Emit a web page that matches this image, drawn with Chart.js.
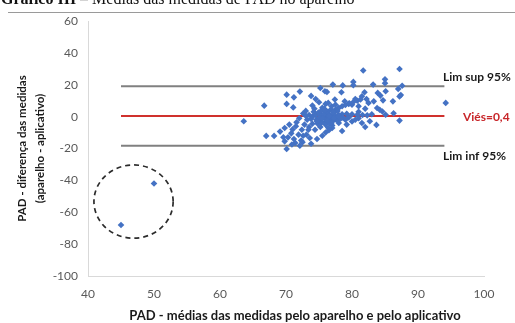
<!DOCTYPE html>
<html>
<head>
<meta charset="utf-8">
<script src="https://cdn.jsdelivr.net/npm/chart.js@4.4.0/dist/chart.umd.min.js"></script>
<style>
  html, body { margin: 0; padding: 0; background: #fff; overflow: hidden; }
  #wrap { position: relative; width: 515px; height: 323px; }
  #title { position: absolute; left: 1px; top: -9px; font-family: "Liberation Serif", serif; font-size: 16px; line-height: 16px; color: #111; white-space: nowrap; }
  #rule { position: absolute; left: 8px; right: 0; top: 12px; border-top: 1px solid #9a9a9a; }
  canvas { position: absolute; left: 0; top: 0; }
</style>
</head>
<body>
<div id="wrap">
  <canvas id="myChart" width="515" height="323"></canvas>
  <div id="title"><b>Gráfico III –</b> Médias das medidas de PAD no aparelho</div>
  <div id="rule"></div>
</div>
<script>
// means of the two measurements (x) and their difference (y)
let padMean = [
  45, 50,
  63.6, 66.7, 67, 68.2, 69.1, 69.8, 69.6, 69.8, 70.1, 70.1, 70.1, 71.2, 71.1, 72.1, 72.1, 71.9, 71.6, 72.4,
  73, 70.5, 71, 70.8, 71.5, 72, 72.8, 73.2, 73.5, 70.3, 71.2, 72.6, 73.1, 73.4, 73.6, 74.4, 74.7, 72.5, 73.8,
  75.2, 75.9, 76.2, 77.1, 78.4, 78.6, 80.2, 80.2, 81.7, 81.9, 81.5, 80.5, 78.9, 77.4, 76.4, 74.5, 75, 74, 75.5, 73.8,
  83.2, 85, 85, 87.2, 87.6, 87, 87.4, 87.2, 86.2, 86.3, 87.2, 94.2, 85.1, 83.9, 84.3, 84.7, 83.3, 82.5,
  83.8, 84.2, 84.6, 85.1, 83.7, 82.7, 82, 81, 80, 79.5, 82.2, 81,
  77.5, 78, 78.5, 79, 79.6, 80.2, 80.8, 81.3,
  78.5, 79.2, 80, 80.8, 81.6, 82.3, 83, 79.5, 81,
  77, 78, 79, 79.2, 80, 80.5, 81.5, 82, 76, 75.5, 76.5, 78.5, 74,
  74, 74.5, 75, 75.5, 76, 76.5, 77, 77.5, 78, 75, 76, 77, 78, 75.3, 76.3, 77.3, 76, 77, 74.8, 76.8,
  75.8, 74.2, 73.8, 74.6, 78.6, 76.2, 75.6, 77.6, 76.6, 77.2, 75.2, 76.4, 77.8, 74.3, 73.5, 73, 72.6, 76.9, 77.5, 76,
  75.1, 75.7, 76.1, 76.7, 77.3, 74.9, 75.4, 76.6, 77.9, 78.3,
  76.3, 76.9, 75.9, 77.1, 75.5, 76.5, 74.7, 71.4, 70.9, 72.3
]
let padDiff = [
  -68, -42,
  -2.9, 6.9, -12.1, -12.1, -9.4, -7.1, -12.9, -15.5, -20.3, 13.8, 8, 12.1, 5.8, 15.7, -18.2, -11.3, -3.6, -8.2,
  3.6, -5, -8, -10.5, -6, -1, -5, -2, -6.5, -13, -14, -12, -11.3, -8.2, -13.4, -8.2, -14, -16, -17,
  18, 15.9, 15.5, 20.1, 15.3, 19.6, 21.8, 19.7, 28.9, 15.3, 12.8, 11.1, 9.6, 10.7, 8.6, 11, 9, 7, 5.5, 13,
  20.1, 23.4, 21, 29.9, 19.4, 17.4, 13.6, 12.7, 9.6, 2.1, -2.5, 8.6, 15.9, 14.9, 13.2, 10.2, 9.6, 8.6,
  5.4, 4.3, 3.2, 1.2, -5.2, -2.9, 5, 6.5, 7.5, 8, 11, 3,
  4.5, 5.5, 6.5, 7.3, 8.4, 9.2, 10, 10.8,
  1.5, 1.8, 1.5, 1.2, 1, 0.8, 1.5, -0.5, -1,
  -7.1, -4, -1.9, -5, -3, -2, -4, -6.5, -10, -12, -8.5, -9, -4.5,
  0, 1, 2, -1, 0, 1, -1, 0, 1, -3, -3, -3, -2, 3.5, 3, 2.5, -5, -5.5, -4.5, 4.5,
  5, 3, -1.5, -2, -0.5, 2, 0.5, -2, -1.5, 1.5, -6.5, -7, 3.5, 5, 1, 0.5, 2, 6.5, 7.5, 8,
  -0.5, 1.5, -2, 0.5, -0.8, 2.5, -3.8, -4, 0.2, -1.2,
  -2.5, -4, 4, 3, -1, 0.2, -3, -16.5, -17.5, -15
]

// limits of agreement: [lower, bias, upper] over the span of the means
let limitSpan = [45, 94]
let limitValues = [-18.3, 0.4, 19.1]
let limitLabels = ['Lim inf 95%', 'Viés=0,4', 'Lim sup 95%']

let xTicks = [40, 50, 60, 70, 80, 90, 100]
let yTicks = [-100, -80, -60, -40, -20, 0, 20, 40, 60]
let xTitle = 'PAD - médias das medidas pelo aparelho e pelo aplicativo'

let points = padMean.map(function(x, i) { return {x: x, y: padDiff[i]} })

function limitLine(value) {
  return [{x: limitSpan[0], y: value}, {x: limitSpan[1], y: value}]
}

// text next to each limit line, the x title and the dashed ring around the two outliers
let labelPlugin = {
  id: 'limitText',
  afterDatasetsDraw: function(chart) {
    let c = chart.ctx
    let xs = chart.scales.x
    let ys = chart.scales.y

    c.save()
    c.setLineDash([5, 4])
    c.strokeStyle = '#2b2b2b'
    c.lineWidth = 1.7
    let cx = xs.getPixelForValue(46.9)
    let cy = ys.getPixelForValue(-53.3)
    let rx = xs.getPixelForValue(46.9 + 6) - cx
    let ry = ys.getPixelForValue(-53.3 - 23) - cy
    c.beginPath()
    c.ellipse(cx, cy, rx, ry, 0, 0, Math.PI * 2)
    c.stroke()
    c.restore()

    c.save()
    c.font = 'bold 12px Lato'
    c.textBaseline = 'middle'
    c.textAlign = 'left'
    c.fillStyle = '#1a1a1a'
    c.fillText(limitLabels[2], xs.getPixelForValue(93.8), ys.getPixelForValue(24.5))
    c.fillText(limitLabels[0], xs.getPixelForValue(93.8), ys.getPixelForValue(-25))
    c.fillStyle = '#c8262a'
    c.fillText(limitLabels[1], xs.getPixelForValue(96.8), ys.getPixelForValue(0))

    c.font = 'bold 13px Lato'
    c.textAlign = 'center'
    c.fillStyle = '#1a1a1a'
    c.fillText(xTitle, (xs.left + xs.right) / 2 + 9, 316)
    c.restore()
  }
}

let ctx = document.getElementById('myChart').getContext('2d')
let chart = new Chart(ctx, {
    type: 'scatter',
    data: {
        datasets: [{
            label: 'PAD',
            data: points,
            pointStyle: 'rectRot',
            radius: 3.3,
            backgroundColor: '#4472c4',
            borderColor: '#4472c4',
            borderWidth: 0
        }, {
            type: 'line',
            data: limitLine(limitValues[2]),
            borderColor: '#808080',
            borderWidth: 2,
            pointRadius: 0
        }, {
            type: 'line',
            data: limitLine(limitValues[1]),
            borderColor: '#d0312d',
            borderWidth: 2,
            pointRadius: 0
        }, {
            type: 'line',
            data: limitLine(limitValues[0]),
            borderColor: '#808080',
            borderWidth: 2,
            pointRadius: 0
        }]
    },
    options: {
        responsive: false,
        animation: false,
        layout: { padding: { top: 21, right: 31, left: 0, bottom: 0 } },
        plugins: {
            legend: { display: false },
            tooltip: { enabled: false }
        },
        scales: {
            x: {
                type: 'linear',
                min: 40,
                max: 100,
                afterBuildTicks: function(s) { s.ticks = xTicks.map(function(v) { return {value: v} }) },
                afterFit: function(s) { s.height = 47 },
                grid: { display: false, drawTicks: false },
                border: { display: true, color: '#d9d9d9', width: 1 },
                ticks: { padding: 11, color: '#595959', font: { family: 'Lato', size: 12 } },
                title: { display: false }
            },
            y: {
                type: 'linear',
                min: -100,
                max: 60,
                afterBuildTicks: function(s) { s.ticks = yTicks.map(function(v) { return {value: v} }) },
                afterFit: function(s) { s.width = 88 },
                grid: { display: false, drawTicks: false },
                border: { display: true, color: '#d9d9d9', width: 1 },
                ticks: { padding: 10, color: '#595959', font: { family: 'Lato', size: 12 } },
                title: {
                    display: true,
                    text: ['PAD - diferença das medidas', '(aparelho - aplicativo)'],
                    color: '#1a1a1a',
                    padding: { top: 13, bottom: 0 },
                    font: { family: 'Lato', size: 11.5, weight: 'bold', lineHeight: 1.6 }
                }
            }
        }
    },
    plugins: [labelPlugin]
})
</script>
</body>
</html>
